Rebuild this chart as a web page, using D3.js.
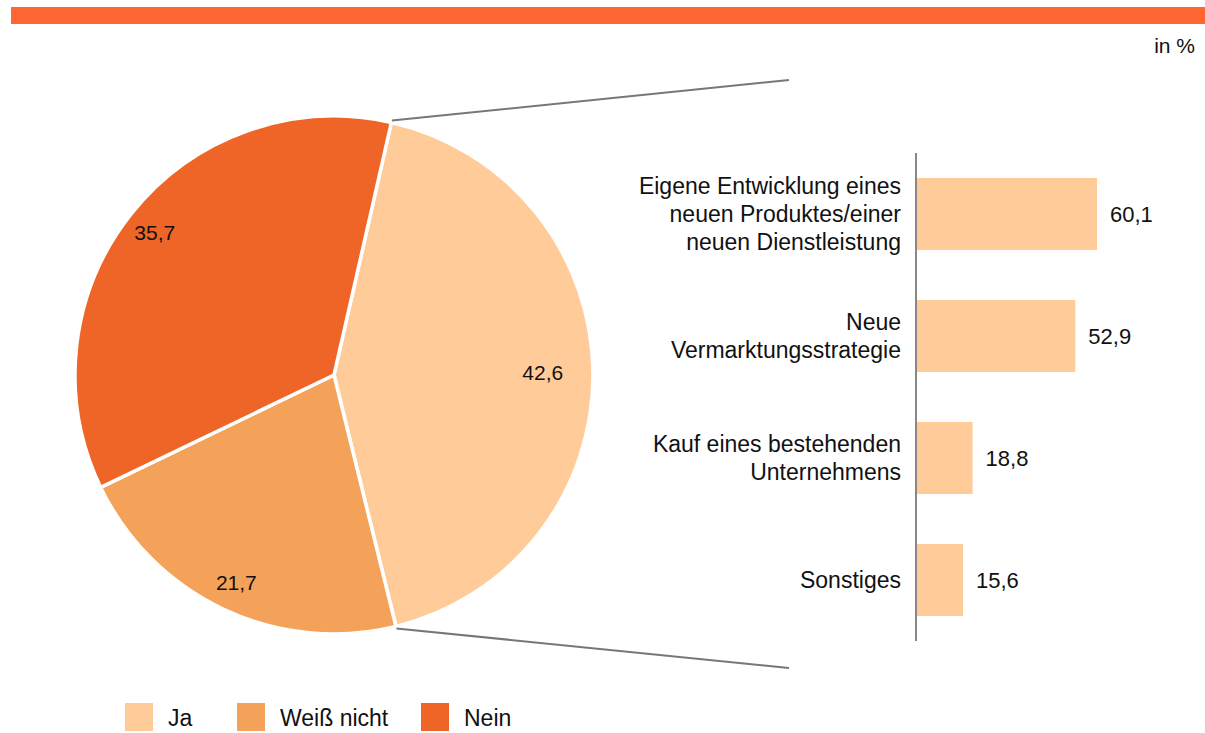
<!DOCTYPE html>
<html>
<head>
<meta charset="utf-8">
<script src="https://cdn.jsdelivr.net/npm/d3@7"></script>
<style>
  body { margin: 0; background: #fff; }
  svg text { font-family: "Liberation Sans", Arial, sans-serif; fill: #111; }
</style>
</head>
<body>
<div id="chart-container"></div>
<script>
const pieLabels = ['Ja', 'Weiß nicht', 'Nein'];
const pieValues = [42.6, 21.7, 35.7];
const pieColors = ['#ffcc99', '#f4a259', '#ee6527'];

const barLabels = [
  ['Eigene Entwicklung eines', 'neuen Produktes/einer', 'neuen Dienstleistung'],
  ['Neue', 'Vermarktungsstrategie'],
  ['Kauf eines bestehenden', 'Unternehmens'],
  ['Sonstiges']
];
const barValues = [60.1, 52.9, 18.8, 15.6];
const barColor = '#ffcc99';

window.onload = () => {
  const width = 1205;
  const height = 733;
  const fmt = v => v.toFixed(1).replace('.', ',');

  const svg = d3.select('div#chart-container')
    .append('svg')
    .attr('width', width)
    .attr('height', height);

  // top band
  svg.append('rect')
    .attr('x', 11).attr('y', 7)
    .attr('width', width - 11).attr('height', 17)
    .attr('fill', '#ff6633');

  svg.append('text')
    .attr('x', 1195).attr('y', 53)
    .attr('text-anchor', 'end')
    .style('font-size', '21px')
    .text('in %');

  // pie
  const cx = 334, cy = 375, r = 259;
  const startAngle = 12.8 * Math.PI / 180;
  const pie = d3.pie().sort(null)
    .startAngle(startAngle)
    .endAngle(startAngle + 2 * Math.PI);
  const arcs = pie(pieValues);
  const arc = d3.arc().innerRadius(0).outerRadius(r);
  const labelArc = d3.arc().innerRadius(r * 0.885).outerRadius(r * 0.885);

  const pieG = svg.append('g').attr('transform', `translate(${cx},${cy})`);
  pieG.selectAll('path')
    .data(arcs)
    .enter()
    .append('path')
    .attr('d', arc)
    .attr('fill', (_, i) => pieColors[i])
    .attr('stroke', '#fff')
    .attr('stroke-width', 3.5)
    .attr('stroke-linejoin', 'round');

  // labels sit inside the slice edge; the one on the right side is right-aligned
  pieG.selectAll('text.pielabel')
    .data(arcs)
    .enter()
    .append('text')
    .attr('class', 'pielabel')
    .attr('transform', d => `translate(${labelArc.centroid(d)})`)
    .attr('text-anchor', d => Math.sin((d.startAngle + d.endAngle) / 2) > 0.9 ? 'end' : 'middle')
    .attr('dy', '0.35em')
    .style('font-size', '21px')
    .text(d => fmt(d.data));

  // bars
  const axisX = 916;
  const x = d3.scaleLinear().domain([0, 60.1]).range([0, 181]);
  const y = d3.scaleBand()
    .domain(d3.range(barValues.length))
    .range([153, 641])
    .paddingInner(0.41)
    .paddingOuter(0.205);

  // connector lines from the Ja slice edges
  const ja = arcs[0];
  const p1 = [cx + (r + 2) * Math.sin(ja.startAngle), cy - (r + 2) * Math.cos(ja.startAngle)];
  const p2 = [cx + (r + 2) * Math.sin(ja.endAngle), cy - (r + 2) * Math.cos(ja.endAngle)];
  svg.append('line')
    .attr('x1', p1[0]).attr('y1', p1[1])
    .attr('x2', 789).attr('y2', 80)
    .attr('stroke', '#777').attr('stroke-width', 2);
  svg.append('line')
    .attr('x1', p2[0]).attr('y1', p2[1])
    .attr('x2', 789).attr('y2', 668)
    .attr('stroke', '#777').attr('stroke-width', 2);

  const bars = svg.append('g').attr('transform', `translate(${axisX},0)`);
  bars.selectAll('rect')
    .data(barValues)
    .enter()
    .append('rect')
    .attr('x', 0)
    .attr('y', (_, i) => y(i))
    .attr('width', d => x(d))
    .attr('height', y.bandwidth())
    .attr('fill', barColor);

  bars.selectAll('text.val')
    .data(barValues)
    .enter()
    .append('text')
    .attr('class', 'val')
    .attr('x', d => x(d) + 13)
    .attr('y', (_, i) => y(i) + y.bandwidth() / 2)
    .attr('dy', '0.35em')
    .style('font-size', '22px')
    .text(d => fmt(d));

  bars.append('line')
    .attr('x1', 0).attr('x2', 0)
    .attr('y1', 153).attr('y2', 641)
    .attr('stroke', '#888').attr('stroke-width', 2);

  const lineH = 28;
  barLabels.forEach((lines, i) => {
    const mid = y(i) + y.bandwidth() / 2;
    const t = bars.append('text')
      .attr('text-anchor', 'end')
      .style('font-size', '23px');
    lines.forEach((ln, j) => {
      t.append('tspan')
        .attr('x', -15)
        .attr('y', mid + (j - (lines.length - 1) / 2) * lineH)
        .attr('dy', '0.35em')
        .text(ln);
    });
  });

  // legend
  const legendX = [125, 237, 421];
  const legend = svg.append('g');
  pieLabels.forEach((lbl, i) => {
    legend.append('rect')
      .attr('x', legendX[i]).attr('y', 703)
      .attr('width', 28).attr('height', 28)
      .attr('fill', pieColors[i]);
    legend.append('text')
      .attr('x', legendX[i] + 43).attr('y', 718)
      .attr('dy', '0.35em')
      .style('font-size', '23px')
      .text(lbl);
  });
};
</script>
</body>
</html>
